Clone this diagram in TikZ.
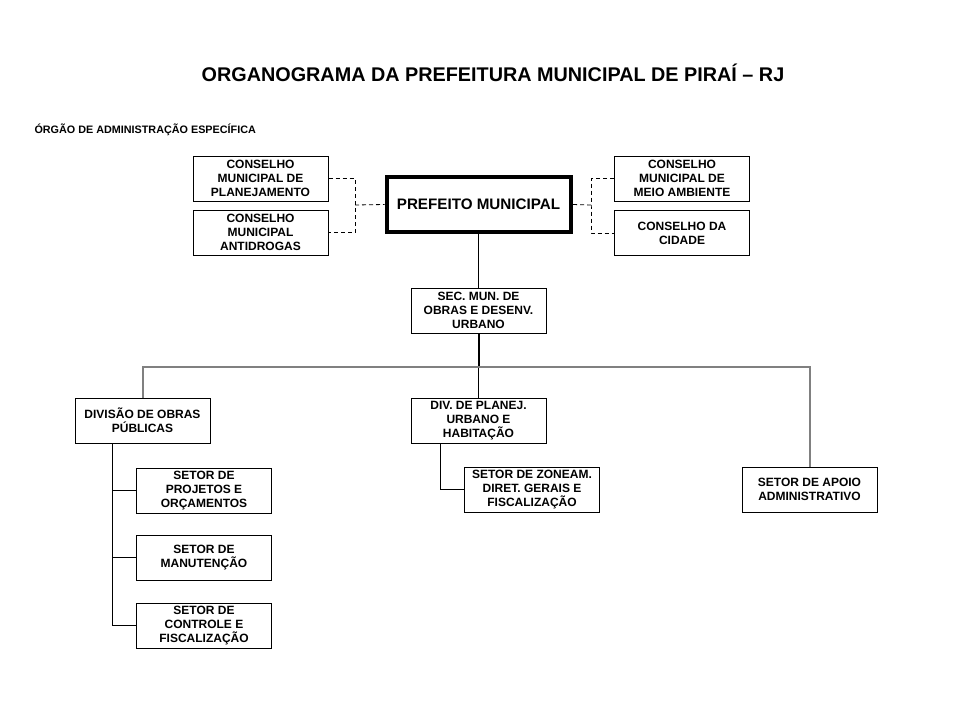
\documentclass[tikz,border=0pt]{standalone}
\usepackage{fontspec}
\setmainfont{Liberation Sans}
\usetikzlibrary{calc,positioning}

\begin{document}
\begin{tikzpicture}[x=1pt,y=-1pt,line width=1pt,
      nodes={font=\bfseries\fontsize{12}{14}\selectfont, align=center, inner sep=0pt},
      box/.style={rectangle,draw,minimum width=135pt,minimum height=45pt},
      dashline/.style={dash pattern=on 4pt off 3pt,line width=0.8pt}]
    \useasboundingbox (0,0) rectangle (960,720);
    \node(t0) at (493,73){\fontsize{19.8}{22}\selectfont ORGANOGRAMA DA PREFEITURA MUNICIPAL DE PIRAÍ -- RJ};
    \node(t1)[anchor=west] at (34,130){\fontsize{10.8}{12}\selectfont ÓRGÃO DE ADMINISTRAÇÃO ESPECÍFICA};

    \node[draw,rectangle,line width=4pt,minimum width=184pt,minimum height=55pt](n0) at (478.5,204.5){\fontsize{15.2}{17}\selectfont PREFEITO MUNICIPAL};
    \node[box](n1) at (260.5,178.5){CONSELHO\\MUNICIPAL DE\\PLANEJAMENTO};
    \node[box](n2) at (260.5,232.5){CONSELHO\\MUNICIPAL\\ANTIDROGAS};
    \node[box](n3) at (682,178.5){CONSELHO\\MUNICIPAL DE\\MEIO AMBIENTE};
    \node[box](n4) at (682,233){CONSELHO DA\\CIDADE};
    \coordinate (jl) at (355,205);
    \coordinate (jr) at (591,205);
    \draw[dashline] (n1.east) -| (jl) |- (n2.east);
    \draw[dashline] (jl) -- (n0.west);
    \draw[dashline] (n3.west) -| (jr) |- (n4.west);
    \draw[dashline] (jr) -- (n0.east);

    \node[box](n5) at (478.5,310.5){SEC. MUN. DE\\OBRAS E DESENV.\\URBANO};
    \draw (n0.south) -- (n5.north);

    \node[box](n6) at (142.5,420.5){DIVISÃO DE OBRAS\\PÚBLICAS};
    \node[box](n7) at (478.5,420.5){DIV. DE PLANEJ.\\URBANO E\\HABITAÇÃO};
    \node[box](n8) at (809.5,489.5){SETOR DE APOIO\\ADMINISTRATIVO};
    \coordinate (b0) at (478.5,367);
    \draw[line width=2pt] (n5.south) -- (b0);
    \draw (b0) -- (n7.north);
    \draw[gray,line width=2pt] (n6.north) |- (b0) -| (n8.north);

    \node[box](n9) at (204,490.5){SETOR DE\\PROJETOS E\\ORÇAMENTOS};
    \node[box](n10) at (204,557.5){SETOR DE\\MANUTENÇÃO};
    \node[box](n11) at (204,625.5){SETOR DE\\CONTROLE E\\FISCALIZAÇÃO};
    \draw ([xshift=-30pt]n6.south) |- (n11.west);
    \draw ([xshift=-30pt]n6.south) |- (n9.west);
    \draw ([xshift=-30pt]n6.south) |- (n10.west);

    \node[box](n12) at (532,489.5){SETOR DE ZONEAM.\\DIRET. GERAIS E\\FISCALIZAÇÃO};
    \draw ([xshift=-38pt]n7.south) |- (n12.west);

\end{tikzpicture}
\end{document}
